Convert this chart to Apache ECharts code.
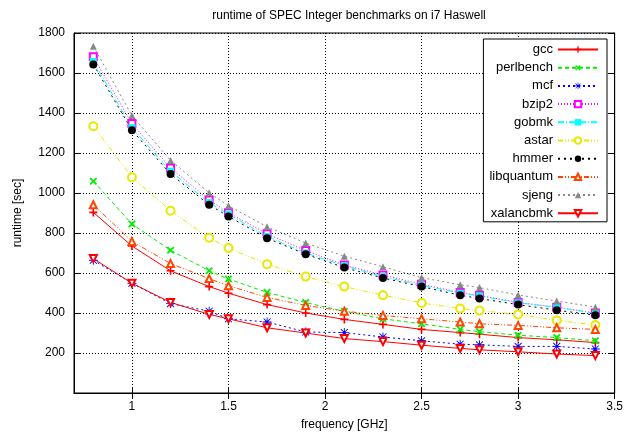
<!DOCTYPE html>
<html><head><meta charset="utf-8">
<script src="https://cdn.jsdelivr.net/npm/echarts@6/dist/echarts.min.js"></script>
<style>html,body{margin:0;padding:0;background:#fff}#c{width:626px;height:436px}</style>
</head><body><div id="c"></div>
<script>
const freqs = [0.8, 1.0, 1.2, 1.4, 1.5, 1.7, 1.9, 2.1, 2.3, 2.5, 2.7, 2.8, 3.0, 3.2, 3.4];
const xTicks = [1, 1.5, 2, 2.5, 3, 3.5];
const names = ['gcc','perlbench','mcf','bzip2','gobmk','astar','hmmer','libquantum','sjeng','xalancbmk'];
const gcc        = [903, 735, 611, 532, 499, 442, 400, 368, 343, 318, 302, 294, 277, 266, 252];
const perlbench  = [1059, 845, 714, 611, 570, 503, 452, 409, 371, 346, 318, 307, 289, 277, 261];
const mcf        = [664, 549, 447, 409, 371, 355, 305, 302, 280, 261, 244, 241, 233, 233, 220];
const bzip2      = [1681, 1347, 1125, 965, 901, 796, 712, 640, 590, 544, 503, 488, 453, 429, 400];
const gobmk      = [1658, 1327, 1109, 952, 894, 783, 700, 636, 582, 539, 499, 486, 451, 428, 398];
const astar      = [1334, 1079, 911, 776, 725, 644, 582, 532, 489, 450, 422, 412, 393, 363, 340];
const hmmer      = [1643, 1314, 1095, 941, 883, 774, 694, 627, 575, 532, 489, 472, 442, 414, 389];
const libquantum = [941, 758, 647, 572, 536, 478, 438, 409, 388, 371, 355, 346, 338, 326, 318];
const sjeng      = [1734, 1387, 1163, 1001, 936, 831, 750, 684, 631, 577, 541, 527, 490, 460, 429];
const xalancbmk  = [672, 549, 453, 393, 371, 326, 300, 272, 257, 239, 223, 216, 206, 195, 187];
const values = [gcc, perlbench, mcf, bzip2, gobmk, astar, hmmer, libquantum, sjeng, xalancbmk];

const plus = 'path://M4,0h2v4h4v2h-4v4h-2v-4h-4v-2h4z';
const star = 'path://M4.5,0h1v4.5h4.5v1h-4.5v4.5h-1v-4.5h-4.5v-1h4.5z M1.5,0.8L5,4.3L8.5,0.8L9.2,1.5L5.7,5L9.2,8.5L8.5,9.2L5,5.7L1.5,9.2L0.8,8.5L4.3,5L0.8,1.5z';
const styles = [
  {color:'#ff0000', type:'solid', symbol: plus, size: 8, rot: 0},
  {color:'#00ee00', type:[4,3], symbol: plus, size: 9, rot: 45},
  {color:'#0000ff', type:[2,3], symbol: star, size: 9, rot: 0},
  {color:'#ff00ff', type:[1,2], symbol: 'emptyRect', size: 7, rot: 0},
  {color:'#00ffff', type:[6,2,1,2], symbol: 'rect', size: 7, rot: 0},
  {color:'#e8e800', type:[5,2,1,2,1,2], symbol: 'emptyCircle', size: 8, rot: 0},
  {color:'#000000', type:[2,4], symbol: 'circle', size: 8, rot: 0},
  {color:'#ff4500', type:[5,2,1,2,1,2], symbol: 'emptyTriangle', size: 7, rot: 0},
  {color:'#888888', type:[2,3], symbol: 'triangle', size: 7, rot: 0},
  {color:'#ff0000', type:'solid', symbol: 'emptyTriangle', size: 7, rot: 180}
];

const font = 'Liberation Sans';
const series = names.map((n, i) => ({
  name: n,
  type: 'line',
  xAxisIndex: 0, yAxisIndex: 0,
  data: freqs.map((f, j) => [f, values[i][j]]),
  symbol: styles[i].symbol,
  symbolSize: styles[i].size,
  symbolRotate: styles[i].rot,
  showAllSymbol: true,
  lineStyle: {color: styles[i].color, width: 1, type: styles[i].type},
  itemStyle: {color: styles[i].color, borderWidth: 1},
  emphasis: {disabled: true},
  animation: false
}));

const chart = echarts.init(document.getElementById('c'), null, {renderer: 'canvas'});
const tickDef = {show: true, inside: true, length: 6, lineStyle: {color: '#000', width: 1}};
const splitDef = {show: true, lineStyle: {color: '#000', width: 1, type: [1, 2]}};
chart.setOption({
  backgroundColor: '#fff',
  animation: false,
  title: {
    text: 'runtime of SPEC Integer benchmarks on i7 Haswell',
    left: 344, top: 5, textAlign: 'center',
    textStyle: {fontFamily: font, fontSize: 12, fontWeight: 'normal', color: '#000'}
  },
  legend: {
    data: names,
    orient: 'vertical',
    right: 19, top: 39,
    align: 'right',
    padding: [4, 8, 2, 6],
    itemWidth: 40, itemHeight: 8, itemGap: 5.2,
    borderColor: '#000', borderWidth: 1,
    backgroundColor: '#fff',
    textStyle: {fontFamily: font, fontSize: 13, color: '#000', width: 82, align: 'right'},
    selectedMode: false
  },
  grid: {left: 74, right: 11, top: 33, bottom: 40, show: true, borderColor: '#000', borderWidth: 1, containLabel: false},
  xAxis: [{
    type: 'value', min: 0.7, max: 3.5, position: 'bottom',
    name: 'frequency [GHz]', nameLocation: 'middle', nameGap: 26,
    nameTextStyle: {fontFamily: font, fontSize: 12, color: '#000'},
    axisLine: {show: true, lineStyle: {color: '#000'}},
    axisTick: Object.assign({customValues: xTicks}, tickDef),
    axisLabel: {customValues: xTicks, fontFamily: font, fontSize: 12, color: '#000', margin: 8},
    splitLine: splitDef
  }, {
    type: 'value', min: 0.7, max: 3.5, position: 'top',
    axisLine: {show: true, lineStyle: {color: '#000'}},
    axisTick: Object.assign({customValues: xTicks}, tickDef),
    axisLabel: {show: false},
    splitLine: {show: false}
  }],
  yAxis: [{
    type: 'value', min: 0, max: 1800, interval: 200, position: 'left',
    name: 'runtime [sec]', nameLocation: 'middle', nameGap: 50,
    nameTextStyle: {fontFamily: font, fontSize: 12, color: '#000'},
    axisLine: {show: true, lineStyle: {color: '#000'}},
    axisTick: tickDef,
    axisLabel: {fontFamily: font, fontSize: 12, color: '#000', margin: 9, formatter: v => v === 0 ? '' : String(v)},
    splitLine: splitDef
  }, {
    type: 'value', min: 0, max: 1800, interval: 200, position: 'right',
    axisLine: {show: true, lineStyle: {color: '#000'}},
    axisTick: tickDef,
    axisLabel: {show: false},
    splitLine: {show: false}
  }],
  series: series
});
</script>
</body></html>
